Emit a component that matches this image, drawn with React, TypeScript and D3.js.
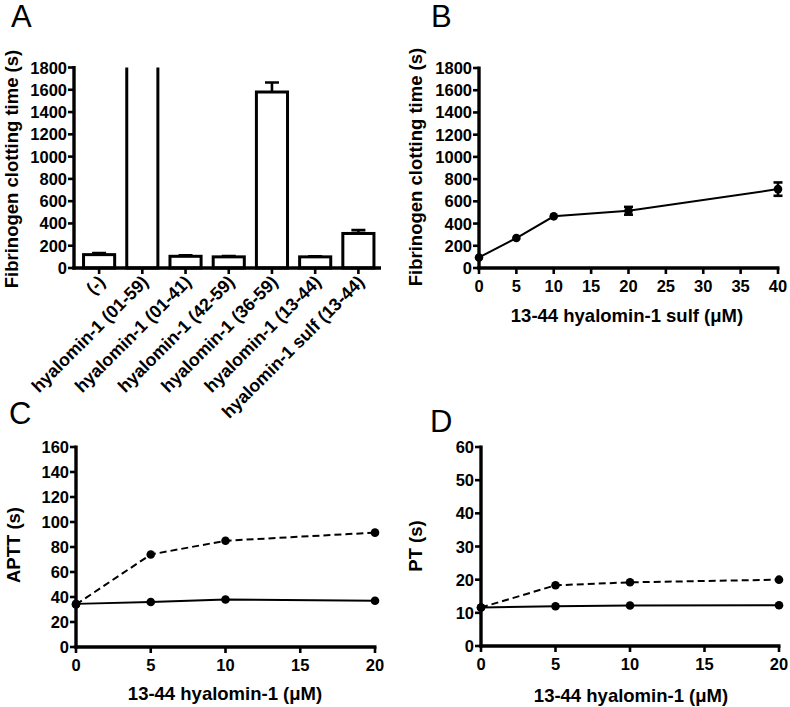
import React from 'react';
import * as d3 from 'd3';

// ---------- Data ----------
const catsA = [
  '(-)',
  'hyalomin-1 (01-59)',
  'hyalomin-1 (01-41)',
  'hyalomin-1 (42-59)',
  'hyalomin-1 (36-59)',
  'hyalomin-1 (13-44)',
  'hyalomin-1 sulf (13-44)',
];
const valsA = [120, 2000, 105, 100, 1580, 100, 310];
const errA = [14, 0, 8, 8, 85, 5, 30];
const yTicksA = [0, 200, 400, 600, 800, 1000, 1200, 1400, 1600, 1800];

const concB = [0, 5, 10, 20, 40];
const valsB = [95, 270, 465, 515, 710];
const errB = [0, 0, 0, 35, 60];
const xTicksB = [0, 5, 10, 15, 20, 25, 30, 35, 40];

const concCD = [0, 5, 10, 20];
const xTicksCD = [0, 5, 10, 15, 20];
const apttSolid = [34.5, 36, 38, 37];
const apttDashed = [34, 74, 85, 91.5];
const yTicksC = [0, 20, 40, 60, 80, 100, 120, 140, 160];
const ptSolid = [11.6, 12, 12.2, 12.3];
const ptDashed = [11.6, 18.3, 19.2, 20];
const yTicksD = [0, 10, 20, 30, 40, 50, 60];

const FONT = '"Liberation Sans", Arial, Helvetica, sans-serif';
const TICK_FS = 16.5;
const TITLE_FS = 18.5;

type Lin = d3.ScaleLinear<number, number>;

function YAxis({ scale, x, ticks, top }: { scale: Lin; x: number; ticks: number[]; top: number }) {
  const y0 = scale(0);
  return (
    <g>
      <line x1={x} x2={x} y1={top - 1.5} y2={y0 + 1.5} stroke="#000" strokeWidth={3.4} />
      {ticks.map((t) => (
        <g key={t}>
          <line x1={x - 6} x2={x} y1={scale(t)} y2={scale(t)} stroke="#000" strokeWidth={2.6} />
          <text
            x={x - 7}
            y={scale(t) + 6}
            textAnchor="end"
            fontFamily={FONT}
            fontWeight="bold"
            fontSize={TICK_FS}
          >
            {t}
          </text>
        </g>
      ))}
    </g>
  );
}

function XAxis({ scale, y, ticks, x0, x1 }: { scale: Lin; y: number; ticks: number[]; x0: number; x1: number }) {
  return (
    <g>
      <line x1={x0 - 1.7} x2={x1 + 1.5} y1={y} y2={y} stroke="#000" strokeWidth={3.4} />
      {ticks.map((t) => (
        <g key={t}>
          <line x1={scale(t)} x2={scale(t)} y1={y} y2={y + 6} stroke="#000" strokeWidth={2.6} />
          <text
            x={scale(t)}
            y={y + 24}
            textAnchor="middle"
            fontFamily={FONT}
            fontWeight="bold"
            fontSize={TICK_FS}
          >
            {t}
          </text>
        </g>
      ))}
    </g>
  );
}

function YTitle({ x, y, text }: { x: number; y: number; text: string }) {
  return (
    <text
      transform={`translate(${x},${y}) rotate(-90)`}
      textAnchor="middle"
      fontFamily={FONT}
      fontWeight="bold"
      fontSize={TITLE_FS}
    >
      {text}
    </text>
  );
}

function XTitle({ x, y, text }: { x: number; y: number; text: string }) {
  return (
    <text x={x} y={y} textAnchor="middle" fontFamily={FONT} fontWeight="bold" fontSize={TITLE_FS}>
      {text}
    </text>
  );
}

function PanelLetter({ x, y, text }: { x: number; y: number; text: string }) {
  return (
    <text x={x} y={y} fontFamily={FONT} fontSize={31}>
      {text}
    </text>
  );
}

function PanelA() {
  const axisX = 74;
  const y = d3.scaleLinear().domain([0, 1800]).range([268, 67.5]);
  const x = d3
    .scaleBand<string>()
    .domain(catsA)
    .range([77.5, 380])
    .paddingInner(0.28)
    .paddingOuter(0.14);
  const bw = x.bandwidth();
  const y0 = y(0);
  return (
    <g>
      <defs>
        <clipPath id="clipA">
          <rect x={axisX} y={y(1800)} width={320} height={y0 - y(1800) + 5} />
        </clipPath>
      </defs>
      <g clipPath="url(#clipA)">
        {catsA.map((c, i) => {
          const bx = x(c)!;
          const top = y(valsA[i]);
          return (
            <g key={c}>
              <rect
                x={bx}
                y={top}
                width={bw}
                height={y0 - top}
                fill="#fff"
                stroke="#000"
                strokeWidth={3}
              />
              {errA[i] > 0 && (
                <g>
                  <line
                    x1={bx + bw / 2}
                    x2={bx + bw / 2}
                    y1={top}
                    y2={y(valsA[i] + errA[i])}
                    stroke="#000"
                    strokeWidth={2.6}
                  />
                  <line
                    x1={bx + bw / 2 - 7}
                    x2={bx + bw / 2 + 7}
                    y1={y(valsA[i] + errA[i])}
                    y2={y(valsA[i] + errA[i])}
                    stroke="#000"
                    strokeWidth={2.6}
                  />
                </g>
              )}
            </g>
          );
        })}
      </g>
      <YAxis scale={y} x={axisX} ticks={yTicksA} top={y(1800)} />
      <line x1={axisX - 1.7} x2={381} y1={y0} y2={y0} stroke="#000" strokeWidth={3.4} />
      {catsA.map((c) => {
        const cx = x(c)! + bw / 2;
        return (
          <g key={c}>
            <line x1={cx} x2={cx} y1={y0} y2={y0 + 6} stroke="#000" strokeWidth={2.6} />
            <text
              transform={`translate(${cx + 7},${y0 + 15}) rotate(-45)`}
              textAnchor="end"
              fontFamily={FONT}
              fontWeight="bold"
              fontSize={17.8}
            >
              {c}
            </text>
          </g>
        );
      })}
      <YTitle x={18} y={169} text="Fibrinogen clotting time (s)" />
      <PanelLetter x={11} y={27} text="A" />
    </g>
  );
}

function PanelB() {
  const axisX = 479;
  const x = d3.scaleLinear().domain([0, 40]).range([axisX, 778]);
  const y = d3.scaleLinear().domain([0, 1800]).range([268, 68]);
  const line = d3
    .line<number>()
    .x((_, i) => x(concB[i]))
    .y((d) => y(d));
  return (
    <g>
      <path d={line(valsB) || ''} fill="none" stroke="#000" strokeWidth={2} />
      {valsB.map((v, i) => (
        <g key={i}>
          {errB[i] > 0 && (
            <g stroke="#000" strokeWidth={2.6}>
              <line x1={x(concB[i])} x2={x(concB[i])} y1={y(v - errB[i])} y2={y(v + errB[i])} />
              <line x1={x(concB[i]) - 4.5} x2={x(concB[i]) + 4.5} y1={y(v - errB[i])} y2={y(v - errB[i])} />
              <line x1={x(concB[i]) - 4.5} x2={x(concB[i]) + 4.5} y1={y(v + errB[i])} y2={y(v + errB[i])} />
            </g>
          )}
          <circle cx={x(concB[i])} cy={y(v)} r={4.3} fill="#000" />
        </g>
      ))}
      <YAxis scale={y} x={axisX} ticks={yTicksA} top={y(1800)} />
      <XAxis scale={x} y={y(0)} ticks={xTicksB} x0={axisX} x1={778} />
      <YTitle x={422} y={167} text="Fibrinogen clotting time (s)" />
      <XTitle x={627} y={322} text="13-44 hyalomin-1 sulf (μM)" />
      <PanelLetter x={431} y={27} text="B" />
    </g>
  );
}

function LinePanel({
  axisX,
  xEnd,
  yTop,
  yBottom,
  yMax,
  yTicks,
  solid,
  dashed,
  yTitle,
  yTitleX,
  yTitleY,
  xTitleX,
  xTitleY,
  letter,
  letterX,
  letterY,
}: any) {
  const x = d3.scaleLinear().domain([0, 20]).range([axisX, xEnd]);
  const y = d3.scaleLinear().domain([0, yMax]).range([yBottom, yTop]);
  const line = d3
    .line<number>()
    .x((_, i) => x(concCD[i]))
    .y((d) => y(d));
  return (
    <g>
      <path d={line(dashed) || ''} fill="none" stroke="#000" strokeWidth={2} strokeDasharray="7,4" />
      <path d={line(solid) || ''} fill="none" stroke="#000" strokeWidth={2} />
      {dashed.map((v: number, i: number) => (
        <circle key={'d' + i} cx={x(concCD[i])} cy={y(v)} r={4.3} fill="#000" />
      ))}
      {solid.map((v: number, i: number) => (
        <circle key={'s' + i} cx={x(concCD[i])} cy={y(v)} r={4.3} fill="#000" />
      ))}
      <YAxis scale={y} x={axisX} ticks={yTicks} top={y(yMax)} />
      <XAxis scale={x} y={y(0)} ticks={xTicksCD} x0={axisX} x1={xEnd} />
      <YTitle x={yTitleX} y={yTitleY} text={yTitle} />
      <XTitle x={xTitleX} y={xTitleY} text="13-44 hyalomin-1 (μM)" />
      <PanelLetter x={letterX} y={letterY} text={letter} />
    </g>
  );
}

export default function App() {
  return (
    <svg width={790} height={707} style={{ position: 'absolute', left: 0, top: 0, background: '#fff' }}>
      <rect width={790} height={707} fill="#fff" />
      <PanelA />
      <PanelB />
      <LinePanel
        axisX={76}
        xEnd={375}
        yTop={447}
        yBottom={647}
        yMax={160}
        yTicks={yTicksC}
        solid={apttSolid}
        dashed={apttDashed}
        yTitle="APTT (s)"
        yTitleX={20}
        yTitleY={545}
        xTitleX={225}
        xTitleY={700}
        letter="C"
        letterX={9}
        letterY={424}
      />
      <LinePanel
        axisX={481}
        xEnd={779}
        yTop={447}
        yBottom={646}
        yMax={60}
        yTicks={yTicksD}
        solid={ptSolid}
        dashed={ptDashed}
        yTitle="PT (s)"
        yTitleX={422}
        yTitleY={546}
        xTitleX={631}
        xTitleY={702}
        letter="D"
        letterX={430}
        letterY={432}
      />
    </svg>
  );
}
